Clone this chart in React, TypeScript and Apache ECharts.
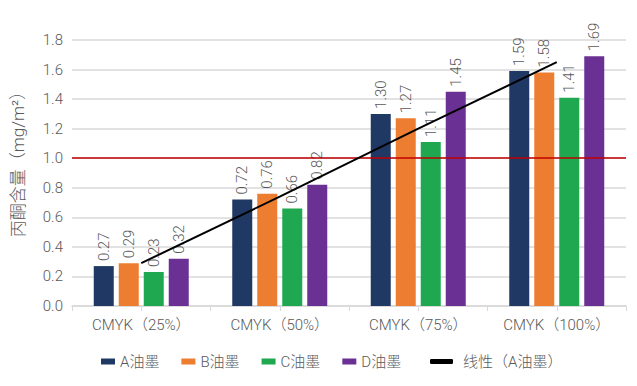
import React, { useEffect, useRef } from "react";
import * as echarts from "echarts";

const categories = ["CMYK（25%）", "CMYK（50%）", "CMYK（75%）", "CMYK（100%）"];
const seriesNames = ["A油墨", "B油墨", "C油墨", "D油墨"];
const inkA = [0.27, 0.72, 1.3, 1.59];
const inkB = [0.29, 0.76, 1.27, 1.58];
const inkC = [0.23, 0.66, 1.11, 1.41];
const inkD = [0.32, 0.82, 1.45, 1.69];
const trendName = "线性（A油墨）";
const trendA = [0.29, 0.74, 1.2, 1.65];
const limitValue = 1.0;
const yMin = 0;
const yMax = 1.8;
const yStep = 0.2;
const yTitle = "丙酮含量（mg/m²）";
const halfTicks = ["", "", "", "", "", "", "", ""];

const colors = ["#1f3864", "#ed7d31", "#1fa84f", "#6b3093"];
const FONT = 'Roboto, "Noto Sans CJK SC", "Noto Sans", sans-serif';
const WEIGHT = 300;
const GRAY = "#595959";

export default function App() {
  const ref = useRef<HTMLDivElement>(null);
  useEffect(() => {
    if (!ref.current) return;
    const chart = echarts.init(ref.current, undefined, { renderer: "svg" });
    const values = [inkA, inkB, inkC, inkD];
    const barSeries = values.map((vals, i) => ({
      name: seriesNames[i],
      type: "bar",
      data: vals,
      barWidth: 20,
      barGap: "25%",
      itemStyle: { color: colors[i] },
      label: {
        show: true,
        position: "top",
        rotate: 90,
        align: "left",
        verticalAlign: "middle",
        distance: 5,
        fontSize: 15,
        fontWeight: WEIGHT,
        color: GRAY,
        fontFamily: FONT,
        formatter: (p: any) => Number(p.value).toFixed(2),
      },
      ...(i === 0
        ? {
            markLine: {
              silent: true,
              symbol: ["none", "none"],
              label: { show: false },
              lineStyle: { color: "#c00000", width: 1.5, type: "solid" },
              data: [{ yAxis: limitValue }],
            },
          }
        : {}),
    }));
    chart.setOption({
      animation: false,
      textStyle: { fontFamily: FONT, fontWeight: WEIGHT },
      grid: { left: 72, right: 11, top: 40, bottom: 80, containLabel: false, outerBoundsMode: "none" },
      graphic: [
        {
          type: "text",
          x: 18,
          y: 160,
          rotation: Math.PI / 2,
          style: {
            text: yTitle,
            fontSize: 17,
            fontFamily: FONT,
            fontWeight: WEIGHT,
            fill: GRAY,
            align: "center",
            verticalAlign: "middle",
          },
        },
      ],
      legend: [
        {
          data: seriesNames,
          left: 96,
          top: 349,
          itemWidth: 14,
          itemHeight: 6,
          itemGap: 22,
          icon: "rect",
          textStyle: { fontSize: 15, color: GRAY, fontFamily: FONT, fontWeight: WEIGHT },
        },
        {
          data: [trendName],
          left: 425,
          top: 349,
          itemWidth: 23,
          itemHeight: 5,
          icon: "roundRect",
          textStyle: { fontSize: 15, color: GRAY, fontFamily: FONT, fontWeight: WEIGHT, padding: [0, 0, 0, 5] },
        },
      ],
      xAxis: [
        {
          type: "category",
          data: categories,
          axisLine: { lineStyle: { color: "#d9d9d9", width: 1.5 } },
          axisTick: { show: true, length: 5, lineStyle: { color: "#d9d9d9" } },
          axisLabel: { interval: 0, fontSize: 15, fontWeight: WEIGHT, color: GRAY, margin: 11, fontFamily: FONT },
        },
        {
          type: "category",
          data: halfTicks,
          position: "bottom",
          axisLine: { show: false },
          axisTick: { show: true, length: 5, lineStyle: { color: "#d9d9d9" } },
          axisLabel: { show: false },
        },
      ],
      yAxis: {
        type: "value",
        min: yMin,
        max: yMax,
        interval: yStep,
        axisLine: { show: false },
        axisTick: { show: false },
        axisLabel: {
          fontSize: 15,
          fontWeight: WEIGHT,
          color: GRAY,
          margin: 9,
          fontFamily: FONT,
          formatter: (v: number) => v.toFixed(1),
        },
        splitLine: { lineStyle: { color: "#d9d9d9", width: 1.5 } },
      },
      series: [
        ...barSeries,
        {
          name: trendName,
          type: "line",
          data: trendA,
          symbol: "none",
          itemStyle: { color: "#000000" },
          lineStyle: { color: "#000000", width: 2 },
          z: 5,
        },
      ],
    });
    return () => chart.dispose();
  }, []);
  return (
    <div
      ref={ref}
      style={{ position: "fixed", left: 0, top: 0, width: 637, height: 386, background: "#fff" }}
    />
  );
}
